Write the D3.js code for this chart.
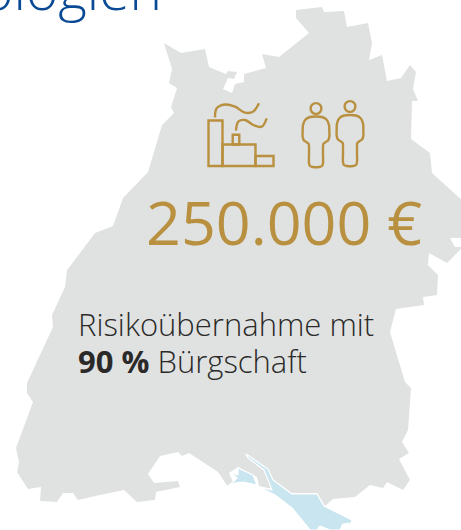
<!DOCTYPE html>
<html><head><meta charset="utf-8">
<style>html,body{margin:0;padding:0;background:#fff;overflow:hidden}svg{display:block}text{font-family:"Open Sans",sans-serif}</style>
<script src="https://cdn.jsdelivr.net/npm/d3@7"></script></head><body>
<script>
const titleText = "Technologien";
const amountText = "250.000 €";
const captionLine1 = "Risikoübernahme mit";
const captionBold = "90 %";
const captionRest = " Bürgschaft";

const landOutline = [[296,10],[322,7],[324,12],[344,11],[347,27],[368,23],[372,43],[369,60],[382,55],[387,81],[401,78],[410,65],[416,72],[413,89],[418,101],[412,101],[411,139],[430,153],[432,173],[463,201],[463,238],[450,238],[455,247],[463,247],[447,263],[429,253],[428,265],[438,275],[437,295],[423,297],[424,305],[396,309],[390,332],[405,382],[411,388],[408,430],[402,442],[409,453],[399,459],[410,480],[403,490],[387,482],[383,488],[370,485],[355,497],[333,499],[325,506],[317,493],[292,493],[273,481],[272,489],[259,486],[257,477],[238,467],[229,473],[233,482],[228,487],[218,472],[189,453],[182,456],[178,452],[160,456],[148,474],[154,483],[178,481],[180,487],[156,492],[155,500],[137,502],[124,490],[100,495],[78,500],[73,493],[63,493],[57,502],[40,501],[41,487],[28,489],[17,472],[19,462],[16,448],[33,402],[27,393],[27,383],[53,327],[52,315],[65,287],[67,270],[71,265],[95,233],[113,226],[123,198],[148,172],[162,125],[174,113],[171,107],[177,88],[169,83],[172,69],[164,43],[181,53],[205,49],[209,67],[226,74],[228,71],[237,72],[234,79],[228,78],[223,89],[232,93],[235,84],[244,82],[244,74],[266,68],[262,54],[279,57],[309,33],[296,18]];
const lakeMain = [[246,454],[268,469],[273,480],[292,494],[317,494],[324,506],[352,520],[351,523],[343,524],[340,530],[330,530],[320,526],[317,530],[310,530],[292,508],[275,495],[259,487],[272,490],[264,470],[248,458]];
const lakeWest = [[231,473],[238,475],[238,468],[253,475],[257,485],[243,482],[235,483],[227,487],[233,482],[237,478]];

const chimney = [[208.5,120.5],[222.5,120.5],[222.5,166],[208.5,166]];
const blockMid = [[222.5,144.5],[255.5,144.5],[255.5,166],[222.5,166]];
const blockLow = [[255.5,156],[273.5,156],[273.5,166],[255.5,166]];
const stack = [[232.7,134.7],[239.3,134.7],[239.3,144.5],[232.7,144.5]];
const smokeA = [[215,117.5],[216.7,108.3],[225,104.5],[235,106.7],[245,112.7],[253,111.7],[259,103.3]];
const smokeB = [[236,130.7],[238.3,121.7],[245,120],[253.3,125],[261.7,126.7],[266.7,118.3]];
const personA = [[316,116.5],[322,117],[326.5,119.5],[329,125],[329.3,130],[329.3,137],[328,140.5],[325,142.5],[323.3,144],[323,148],[323,155],[323,163],[322,166],[319,167],[313,167],[310,166],[309,163],[309,155],[309,148],[308.7,144],[307,142.5],[304,140.5],[302.7,137],[302.7,130],[303,125],[305.5,119.5],[310,117]];
const personB = [[350,115],[356,115.5],[360.5,118],[363,123.5],[363.3,129],[363.3,136],[362,139.5],[359,141.5],[357.3,143],[357,147],[357,154],[357,162],[356,165],[353,166],[347,166],[344,165],[343,162],[343,154],[343,147],[342.7,143],[341,141.5],[338,139.5],[336.7,136],[336.7,129],[337,123.5],[339.5,118],[344,115.5]];
const heads = [[316,108.5],[350,106.5]];

const width = 461, height = 530;
const x = d3.scaleLinear().domain([0,461]).range([0,width]);
const y = d3.scaleLinear().domain([0,530]).range([0,height]);
const svg = d3.select("body").append("svg").attr("width",width).attr("height",height);

const poly = d3.line().x(d=>x(d[0])).y(d=>y(d[1]));
const closed = p => poly(p)+"Z";
const smooth = d3.line().x(d=>x(d[0])).y(d=>y(d[1])).curve(d3.curveCatmullRom.alpha(0.5));
const smoothClosed = d3.line().x(d=>x(d[0])).y(d=>y(d[1])).curve(d3.curveCatmullRomClosed.alpha(0.5));

svg.append("path").attr("d",closed(landOutline)).attr("fill","#e0e2e1");
svg.selectAll(".lake").data([lakeMain,lakeWest]).join("path").attr("class","lake")
  .attr("d",closed).attr("fill","#c9e5ef").attr("stroke","#fff").attr("stroke-width",1.2).attr("stroke-linejoin","round");

svg.append("text").attr("x",x(162)).attr("y",y(10)).attr("text-anchor","end")
  .attr("font-size",55).attr("font-weight",300).attr("fill","#0a4a94").text(titleText);

const gold = "#b8903f";
const icon = svg.append("g").attr("fill","none").attr("stroke",gold).attr("stroke-width",2.4);
icon.selectAll(".box").data([chimney,blockMid,blockLow,stack]).join("path").attr("class","box").attr("d",closed);
icon.selectAll(".smoke").data([smokeA,smokeB]).join("path").attr("class","smoke").attr("d",smooth);
icon.selectAll(".person").data([personA,personB]).join("path").attr("class","person").attr("d",smoothClosed);
icon.selectAll("circle").data(heads).join("circle").attr("cx",d=>x(d[0])).attr("cy",d=>y(d[1])).attr("r",5.4);

svg.append("text").attr("x",x(146)).attr("y",y(245)).attr("font-size",61).attr("fill",gold).text(amountText);

svg.append("text").attr("x",x(78)).attr("y",y(336)).attr("font-size",31).attr("font-weight",300).attr("fill","#2b2a29").text(captionLine1);
const t = svg.append("text").attr("x",x(78)).attr("y",y(373)).attr("font-size",31).attr("font-weight",300).attr("fill","#2b2a29");
t.append("tspan").attr("font-weight",700).text(captionBold);
t.append("tspan").text(captionRest);
</script></body></html>
